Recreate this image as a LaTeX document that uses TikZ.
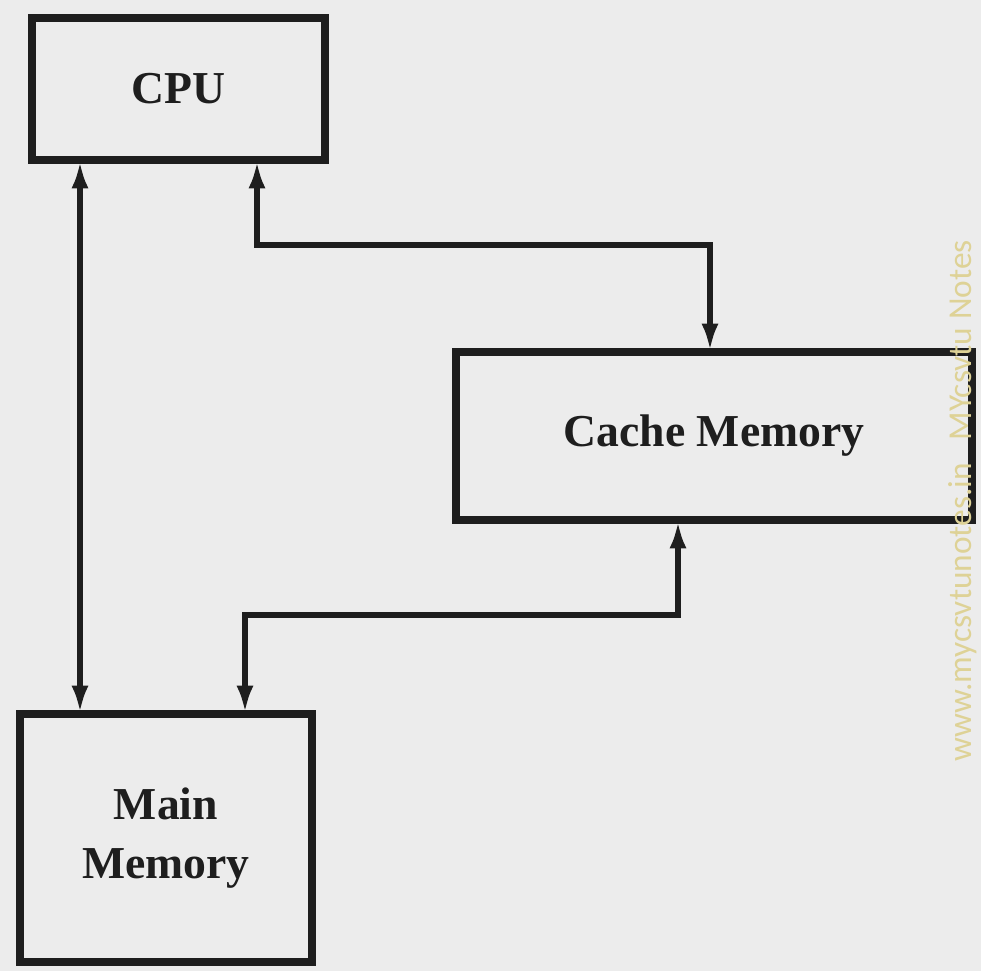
\documentclass[tikz,border=0pt]{standalone}
\usepackage{fontspec}
\setmainfont{Liberation Serif}
\newfontfamily\wmfont{Carlito}
\usetikzlibrary{arrows.meta, positioning, calc}
\definecolor{paper}{RGB}{236,236,236}
\definecolor{ink}{RGB}{30,30,30}
\definecolor{wmark}{RGB}{222,210,150}

\begin{document}
\begin{tikzpicture}[x=0.02cm, y=-0.02cm,
  unit/.style={draw=ink, line width=4.5pt, rectangle, inner sep=0pt, outer sep=0.5pt,
    align=center, font=\fontsize{26}{34}\selectfont\bfseries, text=ink},
  bus/.style={draw=ink, line width=3.6pt,
    {Latex[length=5.5mm,width=3.4mm]}-{Latex[length=5.5mm,width=3.4mm]}}]
  \useasboundingbox (0,0) rectangle (981,971);
  \fill[paper] (0,0) rectangle (981,971);
  % Blocks
  \node[unit, minimum width=5.86cm, minimum height=2.84cm] (cpu) at (178.5,89) {CPU};
  \node[unit, minimum width=10.32cm, minimum height=3.36cm] (cache) at (714,436) {Cache Memory};
  \node[unit, minimum width=5.84cm, minimum height=4.96cm] (main) at (166,838) {Main\\Memory};
  % Bends of the buses
  \coordinate (a1) at (80,0);
  \coordinate (b1) at (257,245);
  \coordinate (b2) at (710,245);
  \coordinate (c1) at (678,615);
  \coordinate (c2) at (245,615);
  % Buses
  \draw[bus] (cpu.south -| a1) -- (main.north -| a1);
  \draw[bus] (cpu.south -| b1) -- (b1) -- (b2) -- (cache.north -| b2);
  \draw[bus] (cache.south -| c1) -- (c1) -- (c2) -- (main.north -| c2);
  % Watermark
  \node[rotate=90, anchor=base west, inner sep=0pt, text=wmark,
    font=\wmfont\fontsize{19}{22}\selectfont] (wm) at (971,762)
    {www.mycsvtunotes.in~~~MYcsvtu Notes};
\end{tikzpicture}
\end{document}
